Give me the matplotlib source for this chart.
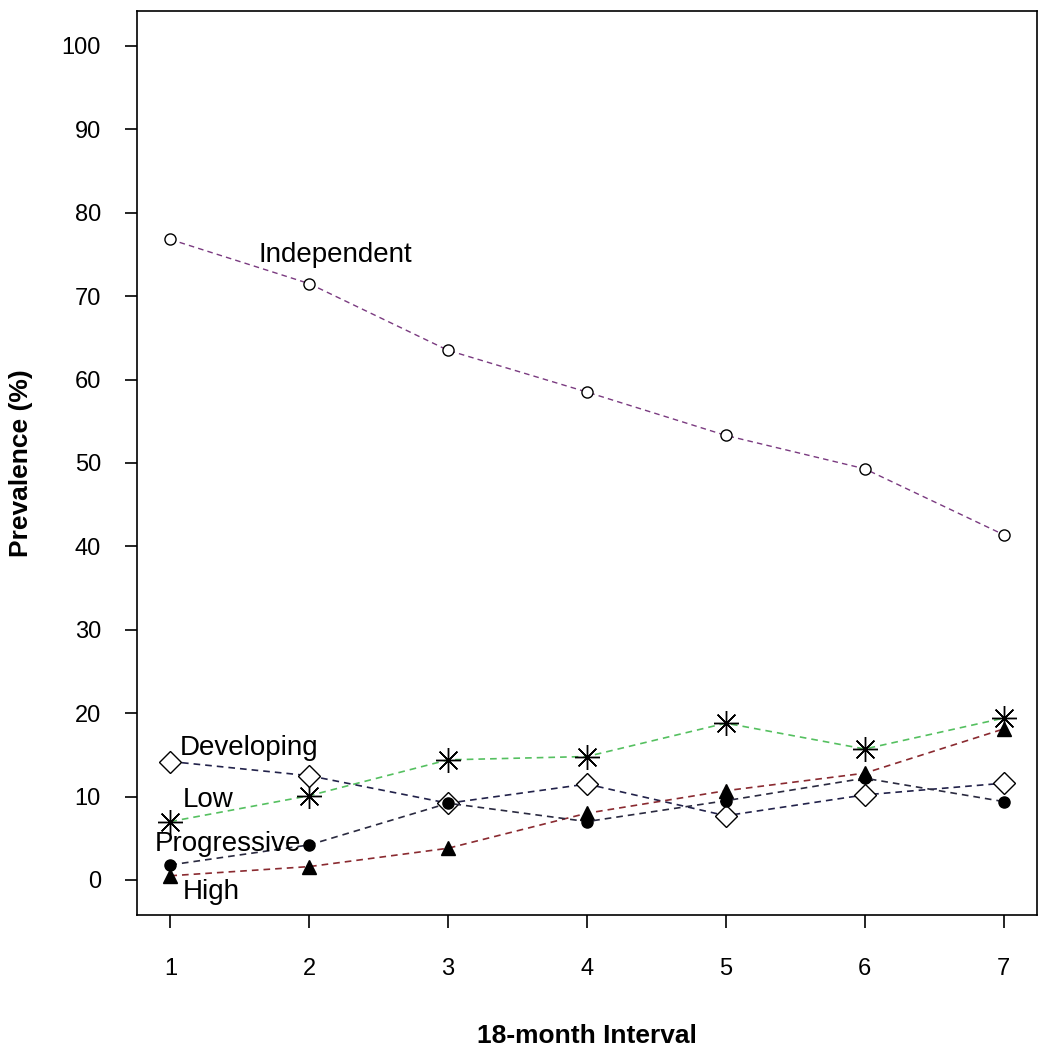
import matplotlib
matplotlib.use('Agg')
import matplotlib.pyplot as plt

plt.rcParams['font.family'] = ['Liberation Sans', 'DejaVu Sans']

# interval numbers
intervals = [1, 2, 3, 4, 5, 6, 7]

# prevalence (%) per trajectory group
independent = [76.8, 71.5, 63.5, 58.5, 53.3, 49.3, 41.4]
developing = [14.2, 12.5, 9.2, 11.5, 7.7, 10.2, 11.6]
low = [7.0, 10.1, 14.4, 14.8, 18.8, 15.7, 19.4]
progressive = [1.8, 4.2, 9.2, 7.0, 9.5, 12.2, 9.4]
high = [0.5, 1.6, 3.8, 8.0, 10.7, 12.8, 18.1]

fig = plt.figure(figsize=(10.5, 10.5), dpi=100)
ax = fig.add_axes([0.1305, 0.1286, 0.857, 0.861])

dash = (0, (4, 3))
ax.plot(intervals, independent, color='#7a3a80', linestyle=dash, lw=1,
        marker='o', markersize=8, markerfacecolor='white', markeredgecolor='black', markeredgewidth=1)
ax.plot(intervals, low, color='#55c060', linestyle=dash, lw=1.2,
        marker=(8, 2, 0), markersize=18, markeredgecolor='black', markeredgewidth=1)
ax.plot(intervals, developing, color='#22224a', linestyle=dash, lw=1.2,
        marker='D', markersize=11, markerfacecolor='white', markeredgecolor='black', markeredgewidth=1)
ax.plot(intervals, high, color='#8a2a30', linestyle=dash, lw=1.2,
        marker='^', markersize=10, markerfacecolor='black', markeredgecolor='black')
ax.plot(intervals, progressive, color='#2a2a40', linestyle=dash, lw=1.2,
        marker='o', markersize=8, markerfacecolor='black', markeredgecolor='black')

fs = 20
ax.text(2.19, 74.9, 'Independent', fontsize=fs, ha='center', va='center')
ax.text(1.07, 15.8, 'Developing', fontsize=fs, ha='left', va='center')
ax.text(1.09, 9.6, 'Low', fontsize=fs, ha='left', va='center')
ax.text(1.94, 4.3, 'Progressive', fontsize=fs, ha='right', va='center')
ax.text(1.09, -1.4, 'High', fontsize=fs, ha='left', va='center')

ax.set_xlim(0.76, 7.24)
ax.set_ylim(-4.2, 104.2)
ax.set_xticks(intervals)
ax.set_yticks(range(0, 101, 10))
ax.tick_params(labelsize=17, length=9, width=1.2)
ax.tick_params(axis='x', pad=22)
ax.tick_params(axis='y', pad=17)
for s in ax.spines.values():
    s.set_linewidth(1.2)

ax.set_xlabel('18-month Interval', fontsize=19, fontweight='bold')
ax.xaxis.set_label_coords(0.5, -0.121)
ax.xaxis.label.set_va('top')
ax.set_ylabel('Prevalence (%)', fontsize=19, fontweight='bold')
ax.yaxis.set_label_coords(-0.116, 0.5)

fig.savefig('out.png', dpi=100)
